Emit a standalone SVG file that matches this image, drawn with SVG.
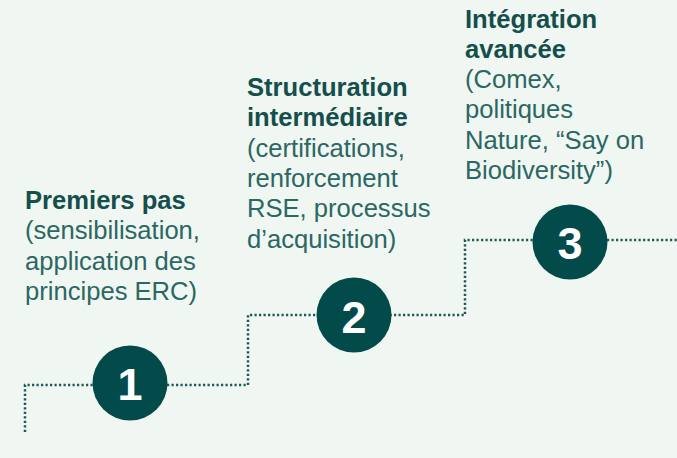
<svg xmlns="http://www.w3.org/2000/svg" width="677" height="458" viewBox="0 0 677 458">
<style>
.bg{fill:#f0f6f1}
.dot{fill:none;stroke:#1d5a57;stroke-width:2.5;stroke-dasharray:2.2 2.3}
.c{fill:#034b4a}
.n{font-family:"Liberation Sans",Arial,sans-serif;font-weight:bold;font-size:45px;fill:#ffffff;text-anchor:middle}
.t{font-family:"Liberation Sans",Arial,sans-serif;font-size:25.6px;fill:#2b6763}
.b{font-weight:bold;fill:#144f4c}
</style>
<rect class="bg" x="0" y="0" width="677" height="458"/>
<g id="connectors">
<path class="dot" d="M25 432 V385 H248 V315 H465 V240 H677"/>
</g>
<g id="step1">
<circle class="c" cx="130" cy="383" r="37.5"/>
<text class="n" x="130" y="400">1</text>
<text class="t" x="25" y="209"><tspan class="b">Premiers pas</tspan><tspan x="25" y="239.3">(sensibilisation,</tspan><tspan x="25" y="269.6">application des</tspan><tspan x="25" y="299.9">principes ERC)</tspan></text>
</g>
<g id="step2">
<circle class="c" cx="354" cy="315" r="37.5"/>
<text class="n" x="354" y="333">2</text>
<text class="t" x="247" y="96"><tspan class="b">Structuration</tspan><tspan class="b" x="247" y="126.3">intermédiaire</tspan><tspan x="247" y="156.6">(certifications,</tspan><tspan x="247" y="186.9">renforcement</tspan><tspan x="247" y="217.2">RSE, processus</tspan><tspan x="247" y="247.5">d’acquisition)</tspan></text>
</g>
<g id="step3">
<circle class="c" cx="570" cy="242" r="37.5"/>
<text class="n" x="570" y="259">3</text>
<text class="t" x="465" y="27.5"><tspan class="b">Intégration</tspan><tspan class="b" x="465" y="57.8">avancée</tspan><tspan x="465" y="88.1">(Comex,</tspan><tspan x="465" y="118.4">politiques</tspan><tspan x="465" y="148.7">Nature, “Say on</tspan><tspan x="465" y="179">Biodiversity”)</tspan></text>
</g>
</svg>
